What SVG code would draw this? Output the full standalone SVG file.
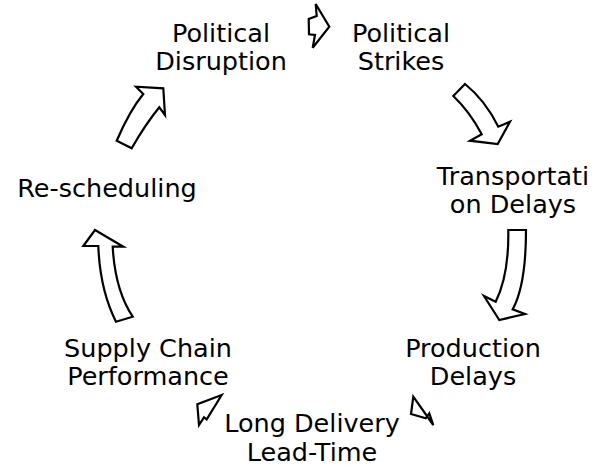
<svg xmlns="http://www.w3.org/2000/svg" width="597" height="467" viewBox="0 0 597 467">
<style>
text{font-family:"DejaVu Sans","Verdana",sans-serif;font-size:25.5px;fill:#000;text-anchor:middle}
.arr{fill:#fff;stroke:#000;stroke-width:2.2;stroke-linejoin:miter}
</style>
<rect width="597" height="467" fill="#fff"/>
<g id="n-political-disruption"><text x="221" y="42">Political</text><text x="221" y="70">Disruption</text></g>
<g id="n-political-strikes"><text x="401" y="42">Political</text><text x="401" y="70">Strikes</text></g>
<g id="n-transportation"><text x="513" y="185">Transportati</text><text x="513" y="213">on Delays</text></g>
<g id="n-production"><text x="473" y="357">Production</text><text x="473" y="385">Delays</text></g>
<g id="n-long-delivery"><text x="312" y="432">Long Delivery</text><text x="312" y="461">Lead-Time</text></g>
<g id="n-supply-chain"><text x="148" y="357">Supply Chain</text><text x="148" y="385">Performance</text></g>
<g id="n-rescheduling"><text x="107" y="197">Re-scheduling</text></g>
<g id="connectors">
<path class="arr" d="M315.7,4 L329.3,26.7 L312.7,47.7 L315,35 L309,34.3 L308.7,19 L316.7,16 Z"/>
<path class="arr" d="M453.3,96 L465,84 Q485,100 498.3,126.7 L510,121.7 L497.7,144 L470,140.7 L481.7,134.3 Q470,112 453.3,96 Z"/>
<path class="arr" d="M508.3,230 L526,230 Q526,285 512.7,309.3 L525,314 L499.3,320 L484,296 L495.7,301.7 Q509,275 508.3,230 Z"/>
<path class="arr" d="M413.3,396.7 L411,414 L425.7,418.3 L429.3,413.3 L433.3,425 Z"/>
<path class="arr" d="M221.7,395 L197.3,404.3 L199,425 L204,417.3 L206.7,419.3 Z"/>
<path class="arr" d="M95,230 L123.3,246.7 L112.7,246.7 Q115,290 132.7,316.7 L116,321.7 Q100,290 98.3,246 L83.3,246 Z"/>
<path class="arr" d="M116.7,140.7 Q130,110 143.3,94 L136,86.7 L163.3,88.3 L165,115 L159.3,107.3 Q145,125 131.7,148.3 Z"/>
</g>
</svg>
